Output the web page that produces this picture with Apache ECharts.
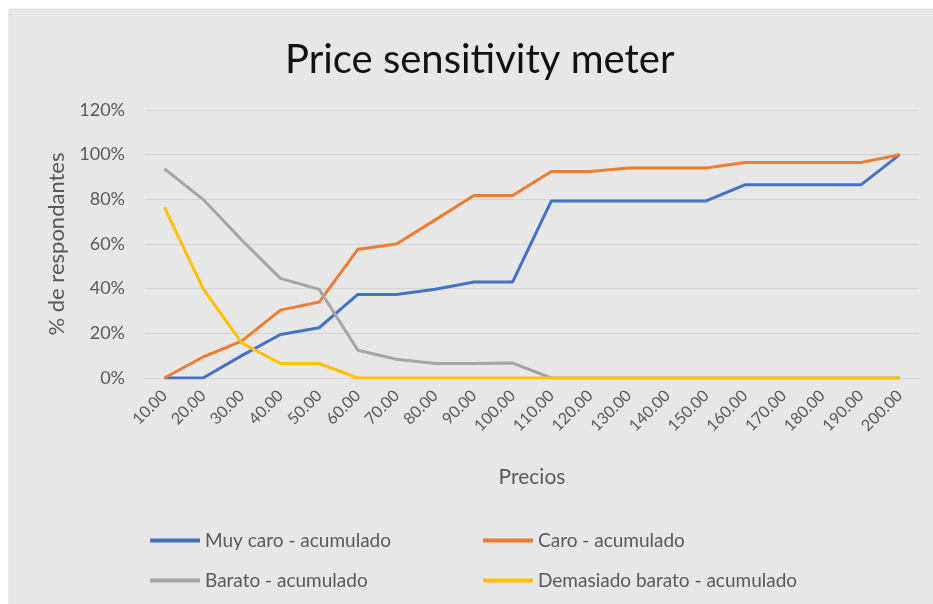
<!DOCTYPE html>
<html>
<head>
<meta charset="utf-8">
<script src="https://cdn.jsdelivr.net/npm/echarts@6/dist/echarts.min.js"></script>
<style>
  html, body { margin: 0; padding: 0; background: #fff; }
  #chart { width: 933px; height: 604px; }
</style>
</head>
<body>
<div id="chart"></div>
<script>
// precios (eje x)
const precios = ["10.00", "20.00", "30.00", "40.00", "50.00", "60.00", "70.00", "80.00", "90.00", "100.00",
  "110.00", "120.00", "130.00", "140.00", "150.00", "160.00", "170.00", "180.00", "190.00", "200.00"];

// % acumulado
const muyCaro = [0, 0, 0.10, 0.195, 0.225, 0.374, 0.374, 0.397, 0.43, 0.43,
  0.793, 0.793, 0.793, 0.793, 0.793, 0.865, 0.865, 0.865, 0.865, 1.0];
const caro = [0, 0.094, 0.165, 0.304, 0.34, 0.576, 0.60, 0.708, 0.817, 0.817,
  0.925, 0.925, 0.94, 0.94, 0.94, 0.965, 0.965, 0.965, 0.965, 1.0];
const barato = [0.937, 0.80, 0.618, 0.446, 0.397, 0.124, 0.084, 0.065, 0.065, 0.067,
  0, 0, 0, 0, 0, 0, 0, 0, 0, 0];
const demasiadoBarato = [0.765, 0.40, 0.157, 0.065, 0.065, 0, 0, 0, 0, 0,
  0, 0, 0, 0, 0, 0, 0, 0, 0, 0];

const yTicks = [0, 0.2, 0.4, 0.6, 0.8, 1.0, 1.2];

const names = ["Muy caro - acumulado", "Caro - acumulado", "Barato - acumulado", "Demasiado barato - acumulado"];
const colors = ["#4472C4", "#ED7D31", "#A5A5A5", "#FFC000"];
const values = [muyCaro, caro, barato, demasiadoBarato];

const font = "Lato, 'Open Sans', sans-serif";
const textGray = "#595959";

const myChart = echarts.init(document.getElementById("chart"));

// una leyenda por item para alinear en dos columnas
const legendPos = [
  { left: 145, top: 526 },
  { left: 478, top: 526 },
  { left: 145, top: 566 },
  { left: 478, top: 566 },
];

const option = {
  animation: false,
  backgroundColor: "#ffffff",
  graphic: [{
    type: "rect",
    shape: { x: 9, y: 9, width: 930, height: 600 },
    style: { fill: "#e7e7e7", stroke: "#dadada", lineWidth: 1 },
    z: -10,
  }],
  title: {
    text: "Price sensitivity meter",
    left: 280,
    top: 35,
    textStyle: { fontFamily: font, fontSize: 40, fontWeight: "normal", color: "#111" },
  },
  legend: names.map((n, i) => ({
    data: [n],
    left: legendPos[i].left,
    top: legendPos[i].top,
    icon: "rect",
    itemWidth: 50,
    itemHeight: 4,
    itemGap: 0,
    textStyle: { fontFamily: font, fontSize: 19, color: textGray },
  })),
  grid: { left: 145, right: 14, top: 110, bottom: 226 },
  xAxis: {
    type: "category",
    data: precios,
    boundaryGap: true,
    name: "Precios",
    nameLocation: "middle",
    nameGap: 89,
    nameTextStyle: { fontFamily: font, fontSize: 21, color: textGray },
    axisLine: { lineStyle: { color: "#d4d4d4", width: 1 } },
    axisTick: { show: false },
    axisLabel: { rotate: 45, fontFamily: font, fontSize: 16, color: textGray, margin: 15, interval: 0 },
  },
  yAxis: {
    type: "value",
    min: yTicks[0],
    max: yTicks[yTicks.length - 1],
    interval: 0.2,
    name: "% de respondantes",
    nameLocation: "middle",
    nameRotate: 90,
    nameGap: 76,
    nameTextStyle: { fontFamily: font, fontSize: 22, color: textGray },
    axisLine: { show: false },
    axisTick: { show: false },
    axisLabel: {
      fontFamily: font, fontSize: 18, color: textGray, margin: 20,
      formatter: (v) => Math.round(v * 100) + "%",
    },
    splitLine: { lineStyle: { color: "#d4d4d4", width: 1 } },
  },
  series: names.map((n, i) => ({
    name: n,
    type: "line",
    data: values[i],
    symbol: "none",
    color: colors[i],
    lineStyle: { width: 3, color: colors[i] },
  })),
};

option && myChart.setOption(option);
</script>
</body>
</html>
